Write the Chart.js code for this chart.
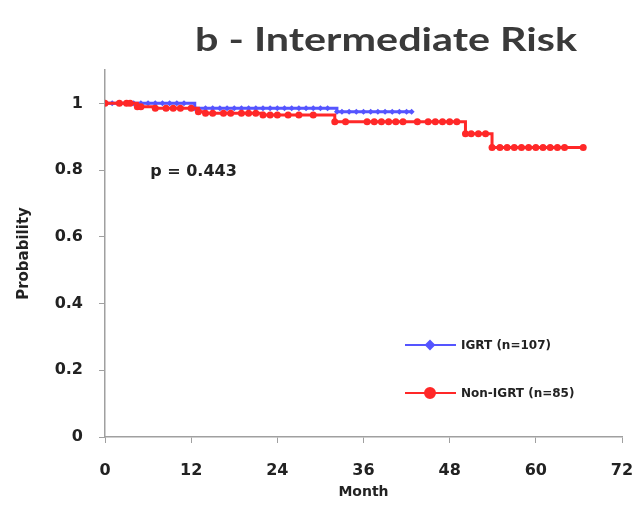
<!DOCTYPE html>
<html>
<head>
<meta charset="utf-8">
<script src="https://cdn.jsdelivr.net/npm/chart.js@4"></script>
<style>
  html, body { margin: 0; padding: 0; background: #fff; }
  #wrap { width: 635px; height: 507px; }
</style>
</head>
<body>
<div id="wrap"><canvas id="kmChart" width="635" height="507"></canvas></div>
<script>
// Kaplan-Meier data (month, survival probability)
const igrtMonths = [0, 1, 2, 3, 4, 5, 6, 7, 8, 9, 10, 11, 12.5, 14, 15, 16, 17, 18, 19, 20, 21, 22, 23, 24, 25, 26, 27, 28, 29, 30, 31, 32.3, 33, 34, 35, 36, 37, 38, 39, 40, 41, 42, 42.7];
const igrtSurv = [1, 1, 1, 1, 1, 1, 1, 1, 1, 1, 1, 1, 0.985, 0.985, 0.985, 0.985, 0.985, 0.985, 0.985, 0.985, 0.985, 0.985, 0.985, 0.985, 0.985, 0.985, 0.985, 0.985, 0.985, 0.985, 0.985, 0.975, 0.975, 0.975, 0.975, 0.975, 0.975, 0.975, 0.975, 0.975, 0.975, 0.975, 0.975];

const nonIgrtMonths = [0, 2, 3, 3.5, 4.5, 5, 7, 8.5, 9.5, 10.5, 12, 13, 14, 15, 16.5, 17.5, 19, 20, 21, 22, 23, 24, 25.5, 27, 29, 32, 33.5, 36.5, 37.5, 38.5, 39.5, 40.5, 41.5, 43.5, 45, 46, 47, 48, 49, 50.2, 51, 52, 53, 53.9, 55, 56, 57, 58, 59, 60, 61, 62, 63, 64, 66.6];
const nonIgrtSurv = [1, 1, 1, 1, 0.99, 0.99, 0.985, 0.985, 0.985, 0.985, 0.985, 0.975, 0.97, 0.97, 0.97, 0.97, 0.97, 0.97, 0.97, 0.965, 0.965, 0.965, 0.965, 0.965, 0.965, 0.945, 0.945, 0.945, 0.945, 0.945, 0.945, 0.945, 0.945, 0.945, 0.945, 0.945, 0.945, 0.945, 0.945, 0.909, 0.909, 0.909, 0.909, 0.868, 0.868, 0.868, 0.868, 0.868, 0.868, 0.868, 0.868, 0.868, 0.868, 0.868, 0.868];

const xTicks = [0, 12, 24, 36, 48, 60, 72];
const yTicks = [0, 0.2, 0.4, 0.6, 0.8, 1];

const chartTitle = 'b - Intermediate Risk';
const pValueText = 'p = 0.443';
const legendLabels = ['IGRT (n=107)', 'Non-IGRT (n=85)'];

const blue = 'rgb(85, 85, 255)';
const red = 'rgb(255, 40, 40)';
const axisGrey = '#a0a0a0';
const tickFont = { family: 'DejaVu Sans', size: 16, weight: 'bold' };

const toPoints = (xs, ys) => xs.map((x, i) => ({ x: x, y: ys[i] }));

// title, p value and the in-plot legend
const extrasPlugin = {
    id: 'extras',
    afterDraw(chart) {
        const ctx = chart.ctx;
        const xs = chart.scales.x;
        const ys = chart.scales.y;
        ctx.save();

        // title is a wide face in the original, so stretch it to its width
        ctx.fillStyle = '#3a3a3a';
        ctx.font = 'bold 33px Lato';
        ctx.textAlign = 'center';
        ctx.textBaseline = 'middle';
        const w = ctx.measureText(chartTitle).width;
        ctx.save();
        ctx.translate(386, 40);
        ctx.scale(382 / w, 1);
        ctx.fillText(chartTitle, 0, 0);
        ctx.restore();

        ctx.fillStyle = '#222';
        ctx.font = 'bold 16px "DejaVu Sans"';
        ctx.textAlign = 'left';
        ctx.fillText(pValueText, xs.getPixelForValue(6.3), ys.getPixelForValue(0.795));

        const rows = [
            { label: legendLabels[0], color: blue, shape: 'rectRot', y: 345 },
            { label: legendLabels[1], color: red, shape: 'circle', y: 393 }
        ];
        rows.forEach(r => {
            ctx.strokeStyle = r.color;
            ctx.lineWidth = 2;
            ctx.beginPath();
            ctx.moveTo(405, r.y);
            ctx.lineTo(456, r.y);
            ctx.stroke();
            ctx.fillStyle = r.color;
            Chart.helpers.drawPoint(ctx, { pointStyle: r.shape, radius: r.shape === 'circle' ? 5 : 4, borderWidth: 1 }, 430, r.y);
            ctx.fillStyle = '#222';
            ctx.font = 'bold 12px "DejaVu Sans"';
            ctx.textAlign = 'left';
            ctx.fillText(r.label, 461, r.y + 1);
        });
        ctx.restore();
    }
};

new Chart(document.getElementById('kmChart'), {
    type: 'line',
    data: {
        datasets: [
            {
                label: legendLabels[1],
                data: toPoints(nonIgrtMonths, nonIgrtSurv),
                stepped: 'before',
                borderColor: red,
                backgroundColor: red,
                borderWidth: 3,
                pointStyle: 'circle',
                pointRadius: 3.5,
                pointBorderWidth: 0,
                order: 0
            },
            {
                label: legendLabels[0],
                data: toPoints(igrtMonths, igrtSurv),
                stepped: 'before',
                borderColor: blue,
                backgroundColor: blue,
                borderWidth: 3,
                pointStyle: 'rectRot',
                pointRadius: 3,
                pointBorderWidth: 0,
                order: 1
            }
        ]
    },
    options: {
        responsive: false,
        animation: false,
        layout: { padding: { top: 70, right: 13, left: 0, bottom: 0 } },
        plugins: {
            legend: { display: false },
            tooltip: { enabled: false }
        },
        scales: {
            x: {
                type: 'linear',
                min: 0,
                max: 72,
                afterFit: s => { s.height = 70; s.paddingRight = 0; s.paddingLeft = 0; },
                afterBuildTicks: s => { s.ticks = xTicks.map(v => ({ value: v })); },
                grid: { display: true, drawOnChartArea: false, tickLength: 6, color: axisGrey },
                border: { display: true, color: axisGrey, width: 1.5 },
                ticks: { color: '#222', font: tickFont, padding: 18, maxRotation: 0 },
                title: {
                    display: true,
                    text: 'Month',
                    color: '#222',
                    font: { family: 'DejaVu Sans', size: 14, weight: 'bold' },
                    padding: { top: 6, bottom: 6 }
                }
            },
            y: {
                type: 'linear',
                min: 0,
                max: 1.1,
                afterFit: s => { s.width = 105; s.paddingTop = 0; s.paddingBottom = 0; },
                afterBuildTicks: s => { s.ticks = yTicks.map(v => ({ value: v })); },
                grid: { display: true, drawOnChartArea: false, tickLength: 6, color: axisGrey },
                border: { display: true, color: axisGrey, width: 1.5 },
                ticks: { color: '#222', font: tickFont, padding: 16, callback: v => String(+v.toFixed(1)) },
                title: {
                    display: true,
                    text: 'Probability',
                    color: '#222',
                    font: { family: 'DejaVu Sans', size: 15, weight: 'bold' },
                    padding: { top: 15, bottom: 15 }
                }
            }
        }
    },
    plugins: [extrasPlugin]
});
</script>
</body>
</html>
